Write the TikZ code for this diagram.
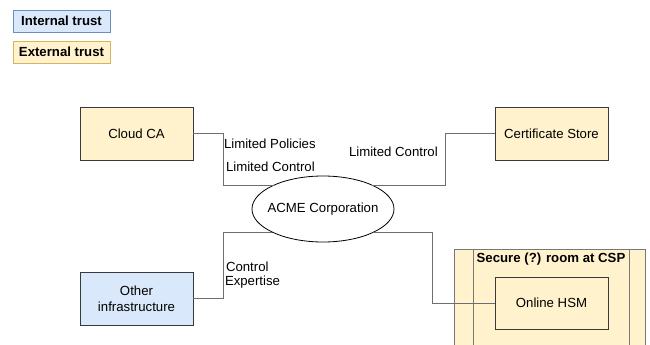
\documentclass[tikz,border=0pt]{standalone}
\usepackage{fontspec}
\setmainfont{Liberation Sans}
\usetikzlibrary{shapes.geometric}

\definecolor{bluefill}{HTML}{DAE8FC}
\definecolor{bluestroke}{HTML}{6C8EBF}
\definecolor{yellowfill}{HTML}{FFF2CC}
\definecolor{yellowstroke}{HTML}{D6B656}
\definecolor{boxstroke}{HTML}{36393D}
\definecolor{edgegray}{HTML}{6E6E6E}
\definecolor{roomstroke}{HTML}{777777}

\tikzset{
  txt/.style={font=\fontsize{13.2}{15.5}\selectfont, inner sep=0pt, outer sep=0pt},
  legendbox/.style={draw, line width=0.9pt, minimum width=97pt, minimum height=22pt,
    inner sep=0pt, outer sep=0pt, font=\fontsize{13.2}{15.5}\selectfont\bfseries},
  internal/.style={legendbox, fill=bluefill, draw=bluestroke},
  external/.style={legendbox, fill=yellowfill, draw=yellowstroke},
  entity/.style={draw=boxstroke, line width=0.9pt, minimum width=113pt, minimum height=53pt,
    inner sep=0pt, outer sep=0pt, align=center, font=\fontsize{13.2}{16}\selectfont},
  extbox/.style={entity, fill=yellowfill},
  intbox/.style={entity, fill=bluefill},
  orgellipse/.style={ellipse, draw=black, fill=white, line width=0.8pt,
    minimum width=142pt, minimum height=66pt, inner sep=0pt, outer sep=0pt},
  edge/.style={draw=edgegray, line width=0.9pt},
  lbl/.style={txt, anchor=west}
}

\begin{document}
\begin{tikzpicture}[x=1pt, y=-1pt]
  \clip (0,0) rectangle (650,345);
  \fill[white] (0,0) rectangle (650,345);

  % legend
  \node[internal] (legint) at (61.5,21) {Internal trust};
  \node[external] (legext) at (61.5,52) {External trust};

  % secure room container with side bars
  \filldraw[fill=yellowfill, draw=roomstroke, line width=0.9pt] (454,249) rectangle (645,360);
  \draw[roomstroke, line width=0.9pt] (473,249) -- (473,360) (629,249) -- (629,360);
  \node[txt, font=\fontsize{13.2}{15.5}\selectfont\bfseries] (roomtitle) at (551,259) {Secure (?) room at CSP};

  % entities
  \node[extbox] (cloud) at (136.5,133.5) {Cloud CA};
  \node[extbox] (store) at (551.5,133.5) {Certificate Store};
  \node[intbox] (other) at (136.5,298.5) {Other\\infrastructure};
  \node[extbox, minimum height=52pt] (hsm) at (551.5,303) {Online HSM};

  \node[orgellipse] (acme) at (323,209) {};
  \node[txt] (acmetext) at (acme.center) {ACME Corporation};

  % connector bends
  \coordinate (c1) at (223,185);
  \coordinate (c2) at (445,185);
  \coordinate (c3) at (223,232);
  \coordinate (c4) at (432,232);

  \draw[edge] (cloud.east) -| (c1) -- (c1 -| acme.153.8);
  \draw[edge] (store.west) -| (c2) -- (c2 -| acme.26.2);
  \draw[edge] (other.east) -| (c3) -- (c3 -| acme.204.3);
  \draw[edge] (hsm.west) -| (c4) -- (c4 -| acme.335.7);

  % connector labels
  \node[lbl] (l1) at (224,144) {Limited Policies};
  \node[lbl] (l2) at (226,167) {Limited Control};
  \node[lbl] (l3) at (349,152) {Limited Control};
  \node[lbl] (l4) at (226,267) {Control};
  \node[lbl] (l5) at (225,282) {Expertise};
\end{tikzpicture}
\end{document}
